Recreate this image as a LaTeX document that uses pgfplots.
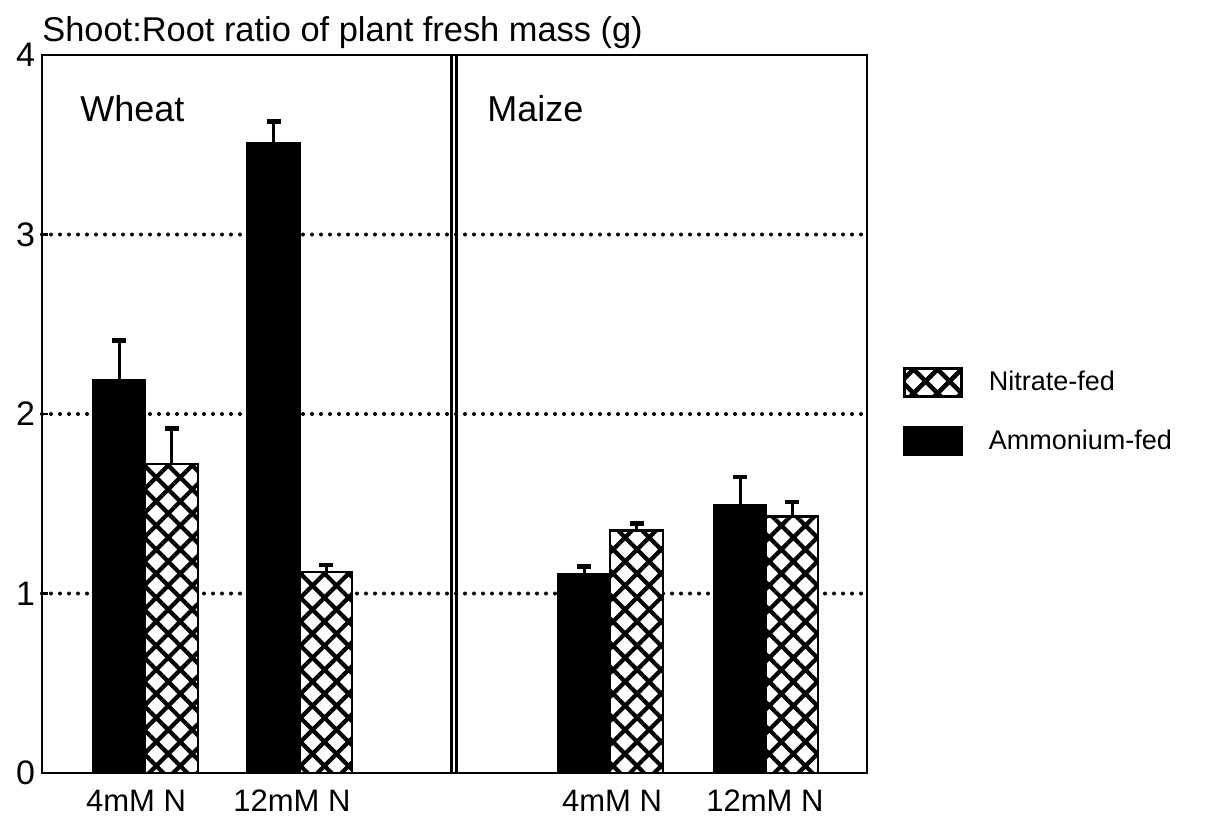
\documentclass[border=0pt]{standalone}
\usepackage{fontspec}
\setmainfont{Liberation Sans}
\usepackage{pgfplots}
\pgfplotsset{compat=1.18}
\usetikzlibrary{patterns.meta}

\tikzset{hatchfill/.style={fill=white, postaction={pattern={Hatch[angle=45,distance=8.5pt,line width=2.1pt]}, pattern color=black}}}

\begin{document}
\begin{tikzpicture}
\useasboundingbox (0,0) rectangle (612.5pt,-413pt);
\begin{axis}[
  at={(21pt,-386.5pt)}, anchor=south west,
  scale only axis, width=412.5pt, height=359pt,
  xmin=42, xmax=867, ymin=0, ymax=4,
  ybar, bar width=52.5,
  clip=false,
  ytick={0,1,2,3,4},
  ytick pos=left, tick align=inside, major tick length=3pt,
  xtick={136,292,612,765}, xticklabels={4mM N,12mM N,4mM N,12mM N},
  xtick style={draw=none},
  xticklabel style={yshift=-5pt, font=\fontsize{15.5}{17}\selectfont},
  yticklabel style={font=\fontsize{17}{19}\selectfont},
  extra y ticks={1,2,3},
  extra y tick labels={},
  extra y tick style={ymajorgrids=true, major tick length=0pt},
  grid style={line width=2pt, dash pattern=on 0pt off 4.5pt, line cap=round, black},
  axis line style={line width=1.3pt},
  ytick style={line width=1.3pt, black},
  /pgf/number format/assume math mode=true,
  legend style={at={(1.0436,0.5655)}, anchor=north west, draw=none, fill=none, inner sep=0pt,
    font=\fontsize{13.5}{15}\selectfont, row sep=14pt,
    /tikz/every odd column/.append style={column sep=11pt}},
  legend cell align=left,
]
% Nitrate-fed
\addplot[hatchfill, draw=black, line width=1.2pt, bar shift=0pt,
  legend image code/.code={\draw[hatchfill,draw=black,line width=1.2pt] (0pt,-7pt) rectangle (28.5pt,7pt);},
  error bars/.cd, y dir=plus, y explicit,
  error bar style={line width=1.5pt, black},
  error mark options={line width=2.2pt, mark size=3.5pt, rotate=90, black},
  ] table[x=x, y=y, y error plus=e] {
x      y     e
171.5  1.72  0.20
326    1.12  0.04
636.5  1.35  0.04
792    1.43  0.08
};
\addlegendentry{Nitrate-fed}
\addplot[fill=black, draw=black, line width=1.2pt, bar shift=0pt,
  legend image code/.code={\draw[fill=black,draw=black,line width=1.2pt] (0pt,-7pt) rectangle (28.5pt,7pt);},
  error bars/.cd, y dir=plus, y explicit,
  error bar style={line width=1.5pt, black},
  error mark options={line width=2.2pt, mark size=3.5pt, rotate=90, black},
  ] table[x=x, y=y, y error plus=e] {
x      y     e
119    2.19  0.22
273.5  3.51  0.12
584    1.11  0.04
740    1.49  0.16
};
\addlegendentry{Ammonium-fed}
\draw[line width=1.2pt] (axis cs:451.5,0) -- (axis cs:451.5,4);
\draw[line width=1.2pt] (axis cs:456.5,0) -- (axis cs:456.5,4);
\node[anchor=base west, font=\fontsize{18}{20}\selectfont, inner sep=0pt] at (axis cs:80,3.627) {Wheat};
\node[anchor=base west, font=\fontsize{18}{20}\selectfont, inner sep=0pt] at (axis cs:487,3.627) {Maize};
\node[anchor=base west, font=\fontsize{17.2}{19}\selectfont, inner sep=0pt] at (axis cs:42,4.073) {Shoot:Root ratio of plant fresh mass (g)};
\end{axis}
\end{tikzpicture}
\end{document}
